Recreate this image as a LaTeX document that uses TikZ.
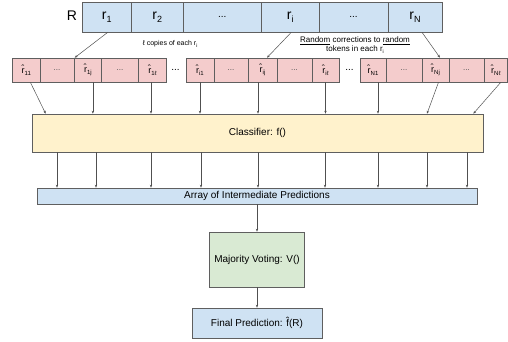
\documentclass[tikz,border=0pt]{standalone}
\usepackage{fontspec}
\setmainfont{Liberation Sans}
\usetikzlibrary{arrows.meta}
\definecolor{cblue}{HTML}{CFE2F3}
\definecolor{cpink}{HTML}{F4CCCC}
\definecolor{cyellow}{HTML}{FFF2CC}
\definecolor{cgreen}{HTML}{D9EAD3}
\definecolor{cborder}{HTML}{5F5F5F}
\definecolor{carrow}{HTML}{505050}
\newcommand{\Rsub}[1]{\raisebox{-2.6pt}{\fontsize{9}{10}\selectfont #1}}
\newcommand{\Psub}[1]{\raisebox{-1.9pt}{\fontsize{6}{7}\selectfont #1}}
\newcommand{\Lsub}[1]{\raisebox{-1.6pt}{\fontsize{5}{6}\selectfont #1}}
\newcommand{\rh}[1]{\^{r}\Psub{#1}}
\begin{document}
\begin{tikzpicture}[x=1pt,y=-1pt,
  box/.style={draw=cborder, line width=0.6pt, inner sep=0pt, anchor=center},
  rcell/.style={box, fill=cblue, minimum height=30pt, font=\fontsize{14}{16}\selectfont},
  pcell/.style={box, fill=cpink, minimum height=24pt, font=\fontsize{9}{10}\selectfont},
  rdots/.style={font=\fontsize{10}{12}\selectfont},
  bigbox/.style={box, font=\fontsize{10}{12}\selectfont},
  arr/.style={draw=carrow, line width=0.5pt, -{Stealth[length=3pt,width=2.4pt]}},
  lab/.style={inner sep=0pt}
]
\useasboundingbox (0,0) rectangle (508,341);

% R row
\node[lab, font=\fontsize{14}{16}\selectfont] (Rlab) at (72,16) {R};
\node[rcell, minimum width=49.5pt] (r1) at (106.75,17) {r\Rsub{1}};
\node[rcell, minimum width=51.5pt] (r2) at (157.25,17) {r\Rsub{2}};
\node[rcell, minimum width=78.5pt] (rd1) at (222.25,17) {\fontsize{10}{12}\selectfont ...};
\node[rcell, minimum width=57.5pt] (ri) at (290.25,17) {r\Rsub{i}};
\node[rcell, minimum width=69pt] (rd2) at (353.5,17) {\fontsize{10}{12}\selectfont ...};
\node[rcell, minimum width=54pt] (rN) at (415,17) {r\Rsub{N}};

% pink row group 1
\node[pcell, minimum width=27.3pt] (p11) at (26.35,70) {\rh{11}};
\node[pcell, minimum width=34pt] (p1a) at (57,70) {\textcolor{carrow}{\fontsize{8}{10}\selectfont ...}};
\node[pcell, minimum width=27.7pt] (p1j) at (87.85,70) {\rh{1j}};
\node[pcell, minimum width=36.6pt] (p1b) at (120,70) {\textcolor{carrow}{\fontsize{8}{10}\selectfont ...}};
\node[pcell, minimum width=28.4pt] (p1l) at (152.5,70) {\rh{1ℓ}};
\node[rdots] (g1) at (175.5,70) {...};
% group 2
\node[pcell, minimum width=28pt] (pi1) at (200,70) {\rh{i1}};
\node[pcell, minimum width=34pt] (pia) at (231,70) {\textcolor{carrow}{\fontsize{8}{10}\selectfont ...}};
\node[pcell, minimum width=29pt] (pij) at (262.5,70) {\rh{ij}};
\node[pcell, minimum width=35pt] (pib) at (294.5,70) {\textcolor{carrow}{\fontsize{8}{10}\selectfont ...}};
\node[pcell, minimum width=27pt] (pil) at (325.5,70) {\rh{iℓ}};
\node[rdots] (g2) at (349.5,70) {...};
% group 3
\node[pcell, minimum width=26pt] (pN1) at (373,70) {\rh{N1}};
\node[pcell, minimum width=36pt] (pNa) at (404,70) {\textcolor{carrow}{\fontsize{8}{10}\selectfont ...}};
\node[pcell, minimum width=27pt] (pNj) at (435.5,70) {\rh{Nj}};
\node[pcell, minimum width=35pt] (pNb) at (466.5,70) {\textcolor{carrow}{\fontsize{8}{10}\selectfont ...}};
\node[pcell, minimum width=23pt] (pNl) at (495.8,70) {\rh{Nℓ}};

% labels
\node[lab, font=\fontsize{7}{8}\selectfont] (lcopies) at (170,44) {ℓ copies of each r\Lsub{i}};
\node[lab, font=\fontsize{8}{9.6}\selectfont, align=center] (lrand) at (355,45) {\underline{Random} corrections to \underline{random}\\tokens in each r\Lsub{i}};

% big boxes
\node[bigbox, fill=cyellow, minimum width=451pt, minimum height=38pt] (cls) at (257.5,133) {Classifier: f()};
\node[bigbox, fill=cblue, minimum width=440pt, minimum height=16pt] (ar) at (257,196) {Array of Intermediate Predictions};
\node[bigbox, fill=cgreen, minimum width=95pt, minimum height=55pt] (mv) at (257,259.5) {Majority Voting: V()};
\node[bigbox, fill=cblue, minimum width=130pt, minimum height=30pt] (fp) at (257,323) {Final Prediction: \^{f}(R)};

% R -> copies
\draw[arr] ([xshift=1pt]r1.south) -- ([xshift=1pt]p1j.north west);
\draw[arr] ([xshift=1pt]ri.south) -- ([xshift=4.5pt]pij.north);
\draw[arr] ([xshift=7pt]rN.south) -- ([xshift=4.5pt]pNj.north);

% copies -> classifier
\draw[arr] ([xshift=4pt]p11.south) -- ([xshift=14pt]cls.north west);
\draw[arr] ([xshift=5pt]p1j.south) -- ([xshift=5pt]p1j.south |- cls.north);
\draw[arr] ([xshift=-1.5pt]p1l.south) -- ([xshift=-1.5pt]p1l.south |- cls.north);
\draw[arr] (pi1.south) -- (pi1.south |- cls.north);
\draw[arr] ([xshift=-4.5pt]pij.south) -- ([xshift=-4.5pt]pij.south |- cls.north);
\draw[arr] (pil.south) -- (pil.south |- cls.north);
\draw[arr] ([xshift=5pt]pN1.south) -- ([xshift=5pt]pN1.south |- cls.north);
\draw[arr] ([xshift=3pt]pNj.south) -- ([xshift=-8.5pt]pNj.south |- cls.north);
\draw[arr] ([xshift=5pt]pNl.south) -- ([xshift=-10pt]cls.north east);

% classifier -> array
\foreach \xx in {57,96,151,201,258,325,378,427,467}
  \draw[arr] (cls.south -| {\xx,0}) -- (ar.north -| {\xx,0});

% array -> voting -> final
\draw[arr] (mv.north |- ar.south) -- (mv.north);
\draw[arr] (mv.south) -- (fp.north);
\end{tikzpicture}
\end{document}
